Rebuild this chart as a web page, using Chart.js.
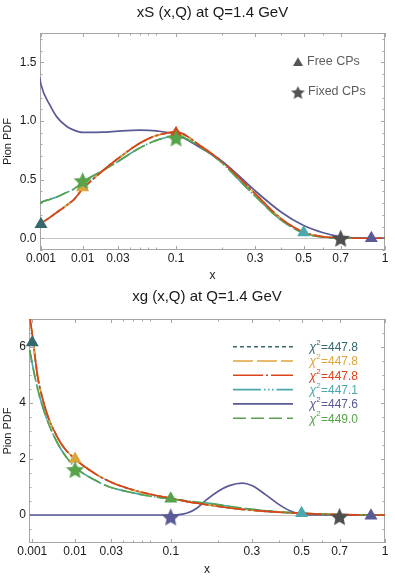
<!DOCTYPE html>
<html>
<head>
<meta charset="utf-8">
<title>Pion PDF</title>
<script src="https://cdn.jsdelivr.net/npm/chart.js@4.4.1/dist/chart.umd.min.js"></script>
<style>
  html, body { margin: 0; padding: 0; background: #ffffff; }
  #wrap { position: relative; width: 395px; height: 579px; overflow: hidden; }
  canvas { position: absolute; left: 0; display: block; }
  #cS { top: 0; }
  #cG { top: 285px; }
</style>
</head>
<body>
<div id="wrap">
  <canvas id="cS" width="395" height="285"></canvas>
  <canvas id="cG" width="395" height="294"></canvas>
</div>
<script>
// ---------------- data ----------------
const titleS = 'xS (x,Q) at Q=1.4 GeV';
const titleG = 'xg (x,Q) at Q=1.4 GeV';
const yAxisTitle = 'Pion PDF';
const xAxisTitle = 'x';
const freeLabel = 'Free CPs';
const fixedLabel = 'Fixed CPs';

const chi2Values = ['447.8', '447.8', '447.8', '447.1', '447.6', '449.0'];

const xTickValues = [0.001, 0.01, 0.03, 0.04, 0.05, 0.06, 0.07, 0.1, 0.2, 0.3, 0.4, 0.5, 0.6, 0.7, 1];
const xTickLabels = ['0.001', '0.01', '0.03', '', '', '', '', '0.1', '', '0.3', '', '0.5', '', '0.7', '1'];

const yTickValuesS = [-0.1, 0, 0.1, 0.2, 0.3, 0.4, 0.5, 0.6, 0.7, 0.8, 0.9, 1.0, 1.1, 1.2, 1.3, 1.4, 1.5, 1.6, 1.7];
const yTickLabelsS = ['', '0.0', '', '', '', '', '0.5', '', '', '', '', '1.0', '', '', '', '', '1.5', '', ''];
const yTickValuesG = [-0.5, 0, 0.5, 1, 1.5, 2, 2.5, 3, 3.5, 4, 4.5, 5, 5.5, 6, 6.5];
const yTickLabelsG = ['', '0', '', '', '', '2', '', '', '', '4', '', '', '', '6', ''];

// xS (sea) curves
const xS_grid   = [0.0009, 0.001, 0.002, 0.003, 0.005, 0.007, 0.01, 0.02, 0.03, 0.05, 0.07, 0.1, 0.15, 0.2, 0.25, 0.3, 0.4, 0.5, 0.6, 0.7, 0.8, 0.9, 1.0];
const xS_teal   = [0.115, 0.125, 0.18, 0.22, 0.28, 0.33, 0.42, 0.58, 0.68, 0.81, 0.875, 0.905, 0.78, 0.65, 0.51, 0.38, 0.165, 0.052, 0.013, 0.003, 0.0, 0.0, 0.0];
const xS_gold   = [0.115, 0.125, 0.18, 0.22, 0.28, 0.33, 0.42, 0.58, 0.68, 0.81, 0.875, 0.905, 0.78, 0.65, 0.51, 0.38, 0.165, 0.052, 0.013, 0.003, 0.0, 0.0, 0.0];
const xS_red    = [0.115, 0.125, 0.18, 0.22, 0.28, 0.33, 0.42, 0.58, 0.68, 0.81, 0.875, 0.905, 0.78, 0.65, 0.51, 0.38, 0.165, 0.052, 0.013, 0.003, 0.0, 0.0, 0.0];
const xS_cyan   = [0.295, 0.305, 0.333, 0.352, 0.39, 0.42, 0.48, 0.58, 0.655, 0.77, 0.835, 0.872, 0.77, 0.64, 0.49, 0.36, 0.152, 0.045, 0.01, 0.002, 0.0, 0.0, 0.0];
const xS_purple = [1.37, 1.31, 1.13, 1.035, 0.955, 0.922, 0.903, 0.905, 0.914, 0.922, 0.915, 0.885, 0.765, 0.655, 0.525, 0.405, 0.222, 0.108, 0.047, 0.013, 0.003, 0.0, 0.0];
const xS_green  = [0.295, 0.305, 0.333, 0.352, 0.39, 0.42, 0.48, 0.58, 0.655, 0.77, 0.835, 0.872, 0.77, 0.64, 0.49, 0.36, 0.152, 0.045, 0.01, 0.002, 0.0, 0.0, 0.0];

// xg (gluon) curves
const xG_grid   = [0.0008, 0.001, 0.0015, 0.002, 0.003, 0.004, 0.006, 0.01, 0.02, 0.03, 0.05, 0.07, 0.1, 0.11, 0.13, 0.15, 0.17, 0.2, 0.23, 0.27, 0.3, 0.35, 0.4, 0.45, 0.5, 0.6, 0.7, 0.8, 0.9, 1.0];
const xG_teal   = [7.1, 6.45, 4.97, 4.27, 3.46, 3.03, 2.48, 2.0, 1.45, 1.17, 0.89, 0.74, 0.6, 0.56, 0.48, 0.42, 0.37, 0.31, 0.25, 0.2, 0.17, 0.13, 0.1, 0.075, 0.055, 0.03, 0.015, 0.005, 0.001, 0.0];
const xG_gold   = [7.1, 6.45, 4.97, 4.27, 3.46, 3.03, 2.48, 2.0, 1.45, 1.17, 0.89, 0.74, 0.6, 0.56, 0.48, 0.42, 0.37, 0.31, 0.25, 0.2, 0.17, 0.13, 0.1, 0.075, 0.055, 0.03, 0.015, 0.005, 0.001, 0.0];
const xG_red    = [7.1, 6.45, 4.97, 4.27, 3.46, 3.03, 2.48, 2.0, 1.45, 1.17, 0.89, 0.74, 0.6, 0.56, 0.48, 0.42, 0.37, 0.31, 0.25, 0.2, 0.17, 0.13, 0.1, 0.075, 0.055, 0.03, 0.015, 0.005, 0.001, 0.0];
const xG_cyan   = [5.9, 5.4, 4.52, 3.97, 3.27, 2.83, 2.27, 1.71, 1.22, 0.98, 0.79, 0.67, 0.58, 0.55, 0.5, 0.46, 0.43, 0.37, 0.31, 0.245, 0.2, 0.15, 0.11, 0.085, 0.06, 0.03, 0.015, 0.005, 0.001, 0.0];
const xG_purple = [0, 0, 0, 0, 0, 0, 0, 0, 0, 0, 0, 0, 0.0, 0.005, 0.07, 0.25, 0.53, 0.85, 1.05, 1.14, 1.05, 0.72, 0.38, 0.14, 0.02, 0, 0, 0, 0, 0];
const xG_green  = [5.9, 5.4, 4.52, 3.97, 3.27, 2.83, 2.27, 1.71, 1.22, 0.98, 0.79, 0.67, 0.58, 0.55, 0.5, 0.46, 0.43, 0.37, 0.31, 0.245, 0.2, 0.15, 0.11, 0.085, 0.06, 0.03, 0.015, 0.005, 0.001, 0.0];

// control points (markers)
const freeS_x  = [0.001, 0.01, 0.1, 0.5, 0.9];
const freeS_y  = [0.12, 0.433, 0.895, 0.05, 0.0];
const freeS_k  = [0, 1, 2, 3, 4];          // series index for colour
const fixedS_x = [0.01, 0.1, 0.7];
const fixedS_y = [0.49, 0.855, 0.0];
const fixedS_k = [5, 5, 6];

const freeG_x  = [0.001, 0.01, 0.1, 0.5, 0.9];
const freeG_y  = [6.16, 2.0, 0.58, 0.06, -0.03];
const freeG_k  = [0, 1, 5, 3, 4];
const fixedG_x = [0.01, 0.1, 0.7];
const fixedG_y = [1.62, -0.07, -0.06];
const fixedG_k = [5, 4, 6];

// ---------------- style ----------------
const seriesColors = ['#36686e', '#dfa43c', '#d9441b', '#4aa9ac', '#5a5a96', '#58a24c'];
const markerColors = seriesColors.concat(['#4f4f4f']);
const seriesDash = [[4, 3], [20, 4], [30, 3, 2, 3], [28, 3, 1.5, 2.5, 1.5, 2.5, 1.5, 3], [], [13, 5]];
const lineOrder = [7, 5, 2, 6, 4, 3];
const FONT = "'Liberation Sans', Arial, Helvetica, sans-serif";
const TXT = '#1a1a1a';
const P = 0.35;                       // x-axis uses x^0.35 scaling
const tf = v => Math.pow(v, P);

Chart.defaults.font.family = FONT;
Chart.defaults.color = TXT;

function starCanvas(color, R) {
  const s = Math.ceil(2 * R) + 2;
  const c = document.createElement('canvas');
  c.width = s; c.height = s;
  const g = c.getContext('2d');
  g.fillStyle = color;
  g.beginPath();
  const cx = s / 2, cy = s / 2 + R * 0.08;
  for (let i = 0; i < 10; i++) {
    const r = (i % 2) ? R * 0.47 : R;
    const a = -Math.PI / 2 + i * Math.PI / 5;
    const px = cx + r * Math.cos(a), py = cy + r * Math.sin(a);
    if (i === 0) g.moveTo(px, py); else g.lineTo(px, py);
  }
  g.closePath();
  g.fill();
  return c;
}

function drawTriangle(ctx, x, y, r, color) {
  ctx.fillStyle = color;
  ctx.beginPath();
  for (let i = 0; i < 3; i++) {
    const a = -Math.PI / 2 + i * 2 * Math.PI / 3;
    const px = x + r * Math.cos(a), py = y + r * Math.sin(a);
    if (i === 0) ctx.moveTo(px, py); else ctx.lineTo(px, py);
  }
  ctx.closePath();
  ctx.fill();
}

// frame with inward ticks on all four sides
const frameTicks = {
  id: 'frameTicks',
  beforeDatasetsDraw(chart) {
    const { ctx, chartArea: a } = chart;
    const xs = chart.scales.x, ys = chart.scales.y;
    ctx.save();
    ctx.strokeStyle = '#a6a6a6';
    ctx.lineWidth = 1;
    ctx.strokeRect(Math.round(a.left) + 0.5, Math.round(a.top) + 0.5,
                   Math.round(a.right - a.left) - 1, Math.round(a.bottom - a.top) - 1);
    ctx.beginPath();
    xs.ticks.forEach(t => {
      const px = Math.round(xs.getPixelForValue(t.value)) + 0.5;
      const L = t.label ? 4 : 2.5;
      ctx.moveTo(px, a.bottom); ctx.lineTo(px, a.bottom - L);
      ctx.moveTo(px, a.top); ctx.lineTo(px, a.top + L);
    });
    ys.ticks.forEach(t => {
      const py = Math.round(ys.getPixelForValue(t.value)) + 0.5;
      const L = t.label ? 4 : 2.5;
      ctx.moveTo(a.left, py); ctx.lineTo(a.left + L, py);
      ctx.moveTo(a.right, py); ctx.lineTo(a.right - L, py);
    });
    ctx.stroke();
    ctx.restore();
  }
};

// legend of the upper panel (marker meaning)
const cpLegend = {
  id: 'cpLegend',
  afterDraw(chart) {
    const ctx = chart.ctx;
    ctx.save();
    drawTriangle(ctx, 298, 63, 5.8, '#555555');
    const st = starCanvas('#555555', 7.2);
    ctx.drawImage(st, 298 - st.width / 2, 92.5 - st.height / 2);
    ctx.fillStyle = '#5e5e5e';
    ctx.font = '12.5px ' + FONT;
    ctx.textBaseline = 'middle';
    ctx.textAlign = 'left';
    ctx.fillText(freeLabel, 307, 62);
    ctx.fillText(fixedLabel, 308, 92);
    ctx.restore();
  }
};

// legend of the lower panel (chi-square per series)
const chiLegend = {
  id: 'chiLegend',
  afterDraw(chart) {
    const ctx = chart.ctx;
    ctx.save();
    for (let i = 0; i < chi2Values.length; i++) {
      const y = 61.7 + i * 14.3;
      ctx.strokeStyle = seriesColors[i];
      ctx.lineWidth = 1.6;
      ctx.setLineDash(seriesDash[i]);
      ctx.beginPath();
      ctx.moveTo(233, y); ctx.lineTo(293, y);
      ctx.stroke();
      ctx.setLineDash([]);
      ctx.fillStyle = seriesColors[i];
      ctx.textBaseline = 'middle';
      ctx.textAlign = 'left';
      let x = 309.5;
      ctx.font = 'italic 12px ' + FONT;
      ctx.fillText('χ', x, y + 1);
      x += ctx.measureText('χ').width + 0.3;
      ctx.font = '8px ' + FONT;
      ctx.fillText('2', x, y - 4);
      x += ctx.measureText('2').width + 0.2;
      ctx.font = '12px ' + FONT;
      ctx.fillText('=' + chi2Values[i], x, y + 1);
    }
    ctx.restore();
  }
};

function makeChart(el, cfg) {
  const lines = cfg.series.map((ys, i) => ({
    label: 'χ²=' + chi2Values[i],
    data: cfg.grid.map((x, j) => ({ x: tf(x), y: ys[j] })),
    showLine: true,
    borderColor: seriesColors[i],
    backgroundColor: seriesColors[i],
    borderWidth: 1.7,
    borderDash: seriesDash[i],
    pointRadius: 0,
    pointHoverRadius: 0,
    cubicInterpolationMode: 'monotone',
    order: lineOrder[i]
  }));
  const triangles = {
    label: freeLabel,
    data: cfg.freeX.map((x, j) => ({ x: tf(x), y: cfg.freeY[j] })),
    showLine: false,
    pointStyle: 'triangle',
    pointRadius: 7.5,
    pointBorderWidth: 0,
    pointBackgroundColor: cfg.freeK.map(k => markerColors[k]),
    pointBorderColor: cfg.freeK.map(k => markerColors[k]),
    clip: false,
    order: 1
  };
  const stars = {
    label: fixedLabel,
    data: cfg.fixedX.map((x, j) => ({ x: tf(x), y: cfg.fixedY[j] })),
    showLine: false,
    pointStyle: cfg.fixedK.map(k => starCanvas(markerColors[k], 9.5)),
    pointRadius: 9,
    clip: false,
    order: 0
  };
  return new Chart(el, {
    type: 'scatter',
    data: { datasets: lines.concat([triangles, stars]) },
    options: {
      responsive: false,
      animation: false,
      events: [],
      layout: { padding: { top: cfg.padTop, right: 4, bottom: 0, left: 0 } },
      plugins: {
        legend: { display: false },
        tooltip: { enabled: false },
        title: {
          display: true, text: cfg.title, fullSize: false, color: TXT,
          font: { size: 15, weight: 'normal', family: FONT },
          padding: { top: 0, bottom: cfg.titleBottom }
        }
      },
      scales: {
        x: {
          type: 'linear', min: cfg.uMin, max: 1,
          afterBuildTicks: s => { s.ticks = xTickValues.map(v => ({ value: tf(v) })); },
          afterFit: s => { s.height = cfg.xAxisH; s.paddingLeft = 0; s.paddingRight = 0; },
          ticks: {
            autoSkip: false, maxRotation: 0, minRotation: 0, padding: 1.5, color: TXT,
            font: { size: 12 }, callback: (v, i) => xTickLabels[i]
          },
          grid: { display: false, drawTicks: false },
          border: { display: false },
          title: { display: true, text: xAxisTitle, color: TXT, font: { size: 12 }, padding: { top: 0, bottom: 1.8 } }
        },
        y: {
          type: 'linear', min: cfg.yMin, max: cfg.yMax,
          afterBuildTicks: s => { s.ticks = cfg.yTicks.map(v => ({ value: v })); },
          afterFit: s => { s.width = cfg.yAxisW; s.paddingTop = 0; s.paddingBottom = 0; },
          ticks: {
            autoSkip: false, padding: cfg.yPad, color: TXT,
            font: { size: 12 }, callback: (v, i) => cfg.yLabels[i]
          },
          grid: {
            drawTicks: false, lineWidth: 1,
            color: c => (c.tick && Math.abs(c.tick.value) < 1e-9) ? '#c6c6c6' : 'rgba(0,0,0,0)'
          },
          border: { display: false },
          title: { display: true, text: yAxisTitle, color: TXT, font: { size: 11 }, padding: { top: 1, bottom: 0 } }
        }
      }
    },
    plugins: [frameTicks].concat(cfg.extra)
  });
}

makeChart(document.getElementById('cS'), {
  title: titleS, padTop: 4, titleBottom: 11,
  grid: xS_grid,
  series: [xS_teal, xS_gold, xS_red, xS_cyan, xS_purple, xS_green],
  freeX: freeS_x, freeY: freeS_y, freeK: freeS_k,
  fixedX: fixedS_x, fixedY: fixedS_y, fixedK: fixedS_k,
  uMin: 0.0865, yMin: -0.1, yMax: 1.75,
  yTicks: yTickValuesS, yLabels: yTickLabelsS,
  xAxisH: 35, yAxisW: 40, yPad: 3.5,
  extra: [cpLegend]
});

makeChart(document.getElementById('cG'), {
  title: titleG, padTop: 3, titleBottom: 13,
  grid: xG_grid,
  series: [xG_teal, xG_gold, xG_red, xG_cyan, xG_purple, xG_green],
  freeX: freeG_x, freeY: freeG_y, freeK: freeG_k,
  fixedX: fixedG_x, fixedY: fixedG_y, fixedK: fixedG_k,
  uMin: 0.0807, yMin: -1, yMax: 7,
  yTicks: yTickValuesG, yLabels: yTickLabelsG,
  xAxisH: 36, yAxisW: 29, yPad: 3,
  extra: [chiLegend]
});
</script>
</body>
</html>
